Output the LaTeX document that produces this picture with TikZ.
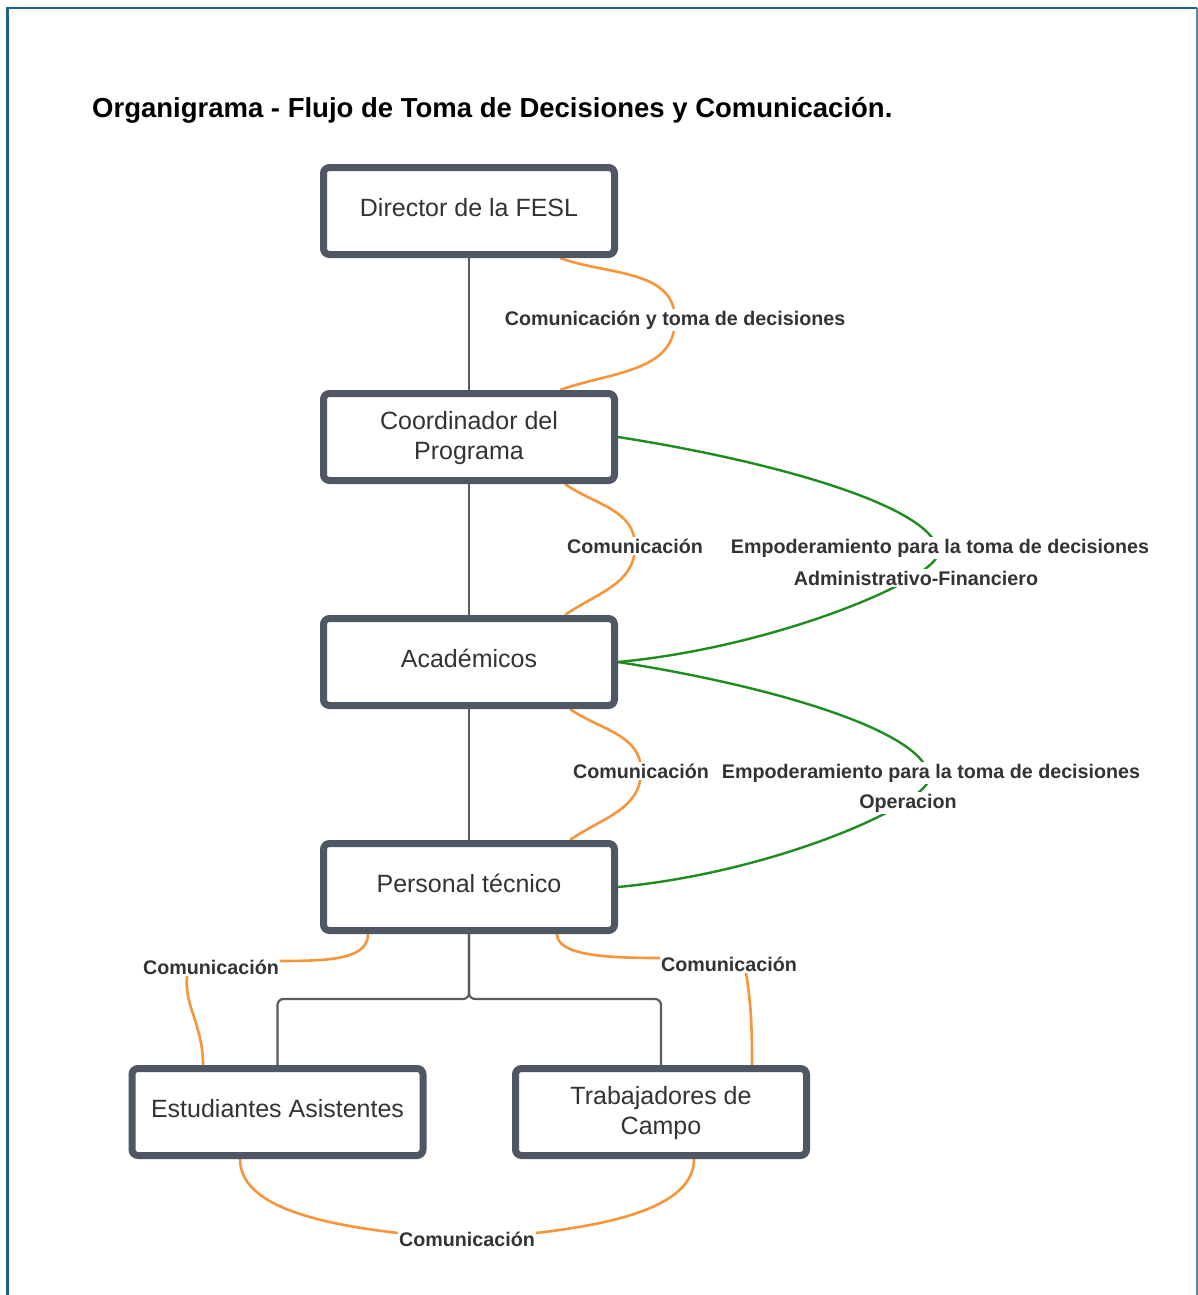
\documentclass[tikz,border=0pt]{standalone}
\usepackage{fontspec}
\setmainfont{Liberation Sans}
\usetikzlibrary{backgrounds}

\definecolor{boxgray}{HTML}{4F5664}
\definecolor{txtgray}{HTML}{333333}
\definecolor{linkgray}{HTML}{5C5C5C}
\definecolor{commorange}{HTML}{F7953A}
\definecolor{empgreen}{HTML}{1E8C1E}
\definecolor{frameleft}{HTML}{1E6387}
\definecolor{frameright}{HTML}{5A8796}

\begin{document}
\begin{tikzpicture}[x=1pt,y=1pt,
  unit/.style={draw=boxgray, line width=7pt, rounded corners=6pt, fill=white,
    minimum width=291pt, minimum height=87pt, align=center, text=txtgray,
    font=\fontsize{25}{30}\selectfont, inner sep=0pt},
  oneline/.style={text height=18pt, text depth=8pt},
  twolines/.style={yshift=-2pt},
  tag/.style={text=txtgray, font=\bfseries\fontsize{19.7}{24}\selectfont,
    fill=white, inner sep=1.5pt},
  orgline/.style={draw=linkgray, line width=2.2pt},
  commline/.style={draw=commorange, line width=2.6pt},
  empline/.style={draw=empgreen, line width=2.4pt}]

\useasboundingbox (0,0) rectangle (1198,-1295);

% page frame (open at the bottom)
\draw[frameleft, line width=3pt] (7,-1295) -- (7,-8);
\draw[frameleft, line width=2pt] (6,-8) -- (1197,-8);
\draw[frameright, line width=2pt] (1197,-8) -- (1197,-1295);

% title
\node[anchor=base west, inner sep=0pt, font=\bfseries\fontsize{27.5}{32}\selectfont]
  (title) at (92,-117.5) {Organigrama - Flujo de Toma de Decisiones y Comunicación.};

% positions in the hierarchy
\node[unit, oneline] (dir)   at (469,-211)    {Director de la FESL};
\node[unit]          (coord) at (469,-437)    {\rule{0pt}{21pt}Coordinador del\\Programa};
\node[unit, oneline] (acad)  at (469,-662)    {Académicos};
\node[unit, oneline] (ptec)  at (469,-887)    {Personal técnico};
\node[unit, oneline] (est)   at (277.5,-1112) {Estudiantes Asistentes};
\node[unit]          (trab)  at (661,-1112)   {\rule{0pt}{21pt}Trabajadores de\\Campo};

\coordinate (split) at (469,-999);

% relation labels
\node[tag] (l1) at (675,-320)  {Comunicación y toma de decisiones};
\node[tag] (l2) at (635,-546)  {Comunicación};
\node[tag] (l3) at (641,-771)  {Comunicación};
\node[tag] (l4) at (211,-967)  {Comunicación};
\node[tag] (l5) at (729,-964)  {Comunicación};
\node[tag] (l6) at (467,-1239) {Comunicación};
\node[tag] (g1a) at (940,-548) {Empoderamiento para la toma de decisiones};
\node[tag] (g1b) at (916,-578) {Administrativo-Financiero};
\node[tag] (g2a) at (931,-773) {Empoderamiento para la toma de decisiones};
\node[tag] (g2b) at (908,-803) {Operacion};

\coordinate (g1) at (938,-553);
\coordinate (g2) at (929,-778);

\begin{pgfonlayer}{background}
  \fill[white] (0,0) rectangle (1198,-1295);

  % reporting lines
  \draw[orgline] (dir.south) -- (coord.north);
  \draw[orgline] (coord.south) -- (acad.north);
  \draw[orgline] (acad.south) -- (ptec.north);
  \draw[orgline, rounded corners=6pt] (ptec.south) |- (est.north |- split) -- (est.north);
  \draw[orgline, rounded corners=6pt] (ptec.south) |- (trab.north |- split) -- (trab.north);

  % communication links
  \draw[commline] ([xshift=91pt]dir.south) to[out=-20,in=90] (l1.center)
                  to[out=-90,in=20] ([xshift=91pt]coord.north);
  \draw[commline] ([xshift=96pt]coord.south) to[out=-35,in=90] (l2.center)
                  to[out=-90,in=35] ([xshift=96pt]acad.north);
  \draw[commline] ([xshift=101pt]acad.south) to[out=-35,in=90] (l3.center)
                  to[out=-90,in=35] ([xshift=101pt]ptec.north);
  \draw[commline] ([xshift=-101pt]ptec.south) .. controls +(0,-25) and +(50,0) .. ([yshift=6pt]l4.east)
                  .. controls +(-60,0) and +(0,20) .. ([xshift=-24pt]l4.south)
                  .. controls +(-3,-30) and +(0,40) .. ([xshift=-74.5pt]est.north);
  \draw[commline] ([xshift=88pt]ptec.south) .. controls +(0,-22) and +(-50,0) .. ([yshift=6pt]l5.west)
                  .. controls +(60,0) and +(0,20) .. ([xshift=17pt]l5.south)
                  .. controls +(5,-30) and +(0,40) .. ([xshift=91pt]trab.north);
  \draw[commline] ([xshift=-37.5pt]est.south) .. controls +(0,-55) and +(-120,8) .. (l6.center)
                  .. controls +(120,8) and +(0,-55) .. ([xshift=33pt]trab.south);

  % empowerment links
  \draw[empline] (coord.east) .. controls +(160,-25) and +(0,45) .. (g1)
                 .. controls +(0,-25) and +(160,15) .. (acad.east);
  \draw[empline] (acad.east) .. controls +(160,-25) and +(0,45) .. (g2)
                 .. controls +(0,-25) and +(160,15) .. (ptec.east);
\end{pgfonlayer}
\end{tikzpicture}
\end{document}
